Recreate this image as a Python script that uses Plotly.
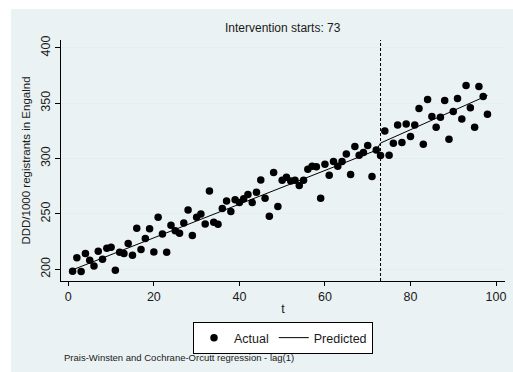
import plotly.graph_objects as go

# ---- data ----
t_actual = list(range(1, 99))
actual = [198.2, 210.5, 197.9, 214.2, 208.1, 203.0, 216.3, 209.0, 219.0, 219.9,
          199.1, 215.4, 214.2, 223.2, 212.7, 237.0, 217.8, 227.7, 236.7, 215.7,
          247.0, 231.9, 215.4, 239.8, 234.9, 232.5, 241.9, 253.6, 230.4, 247.0,
          250.0, 241.0, 270.8, 242.5, 240.7, 254.8, 261.7, 252.1, 262.7, 260.2,
          263.6, 267.5, 260.2, 269.6, 280.7, 264.2, 247.9, 287.3, 256.6, 280.4,
          283.1, 279.8, 280.4, 275.6, 280.4, 290.4, 293.1, 292.5, 264.2, 294.9,
          284.9, 297.3, 293.1, 297.3, 304.2, 285.5, 310.8, 303.0, 305.4, 311.7,
          283.7, 307.8, 302.7, 325.0, 303.0, 313.9, 330.4, 314.5, 331.3, 319.9,
          330.4, 345.2, 313.0, 353.3, 338.0, 328.3, 337.3, 352.4, 317.5, 342.5,
          354.2, 335.8, 366.0, 346.0, 328.3, 365.0, 356.0, 340.0]

# predicted (segmented regression line), read at its break/end points
t_pred = [1, 72, 73, 98]
predicted = [199.5, 307.5, 314.0, 357.0]

intervention = 73
x_ticks = [0, 20, 40, 60, 80, 100]
y_ticks = [200, 250, 300, 350, 400]

FONT = "Liberation Sans, Arial, sans-serif"
TXT = "#1a1a1a"
BG = "#eaf2f3"

fig = go.Figure()
fig.add_trace(go.Scatter(x=t_actual, y=actual, mode="markers", name="Actual",
                         marker=dict(symbol="circle", size=7.5, color="black")))
fig.add_trace(go.Scatter(x=t_pred, y=predicted, mode="lines", name="Predicted",
                         line=dict(color="black", width=1)))

fig.add_vline(x=intervention, line=dict(color="black", width=1, dash="3px,2px"))

W, H = 513, 372
L, R, T, B = 61, 505, 40, 281
pw, ph = R - L, B - T

# outer graph region (light bluish gray), leaving thin white border top/left
fig.add_shape(type="rect", xref="paper", yref="paper", layer="below",
              x0=(11 - L) / pw, x1=(W - L) / pw, y0=(B - H) / ph, y1=(B - 9) / ph,
              fillcolor=BG, line=dict(width=0))

fig.add_annotation(text="Intervention starts: " + str(intervention), xref="paper", yref="paper",
                   x=0.5, y=(B - 28) / ph, xanchor="center", yanchor="middle",
                   showarrow=False, font=dict(size=12, color=TXT, family=FONT))
fig.add_annotation(text="Prais-Winsten and Cochrane-Orcutt regression - lag(1)",
                   xref="paper", yref="paper", x=(62 - L) / pw, y=(B - 357) / ph,
                   xanchor="left", yanchor="middle", showarrow=False,
                   font=dict(size=9.5, color=TXT, family=FONT))

fig.update_layout(
    width=W, height=H,
    margin=dict(l=L, r=W - R, t=T, b=H - B, pad=0),
    paper_bgcolor="white", plot_bgcolor="white",
    font=dict(family=FONT, color=TXT, size=12),
    showlegend=True,
    legend=dict(orientation="h", x=0.5, xanchor="center", y=(B - 322) / ph, yanchor="top",
                bgcolor="white", bordercolor="black", borderwidth=1,
                font=dict(size=12.5, color=TXT, family=FONT)),
    xaxis=dict(range=[-1.71, 102.1], tickvals=x_ticks, ticks="outside", ticklen=4,
               tickcolor="black", showline=True, linecolor="black", linewidth=1,
               showgrid=False, zeroline=False, tickfont=dict(size=12.5),
               title=dict(text="t", font=dict(size=12.5), standoff=1)),
    yaxis=dict(range=[189.4, 407.1], tickvals=y_ticks, ticks="outside", ticklen=5,
               tickcolor="black", showline=True, linecolor="black", linewidth=1,
               showgrid=True, gridcolor="#e4edef", gridwidth=1, zeroline=False,
               tickangle=-90, tickfont=dict(size=12.5),
               title=dict(text="DDD/1000 registrants in Engalnd", font=dict(size=11.5),
                          standoff=5)),
)

fig.write_html("out.html")
